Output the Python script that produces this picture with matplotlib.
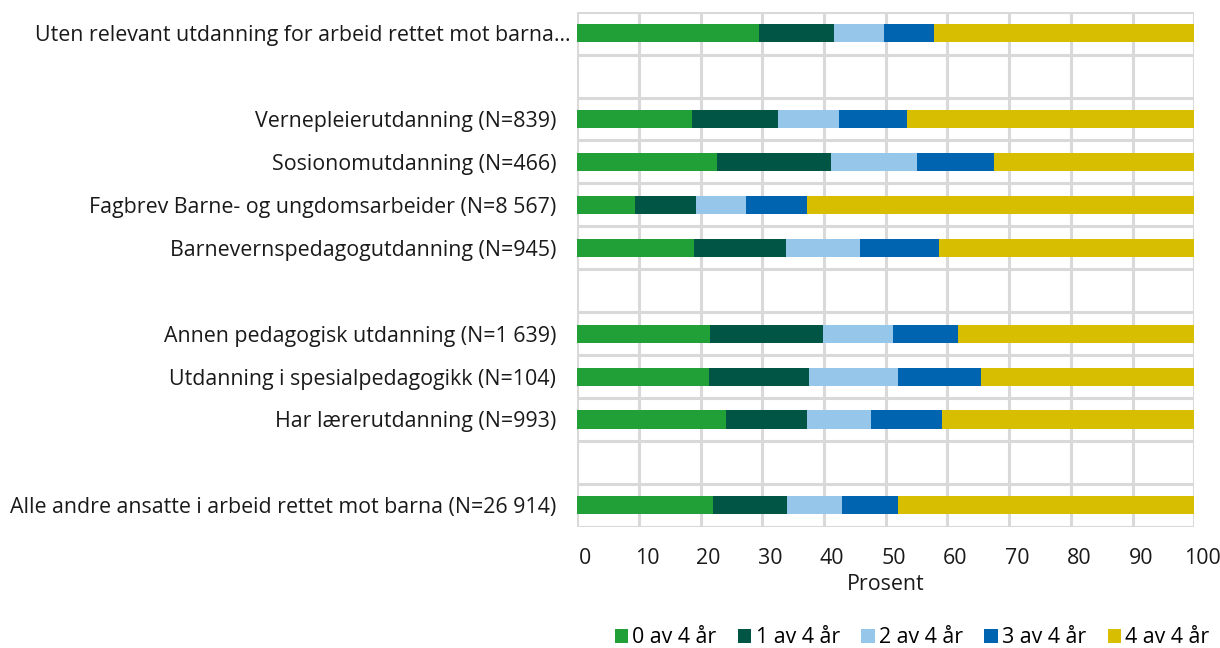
import matplotlib
matplotlib.use('Agg')
import matplotlib.pyplot as plt
import matplotlib.transforms as mtransforms
from matplotlib.patches import Patch
import numpy as np

plt.rcParams['font.family'] = ['Open Sans', 'DejaVu Sans']

# rows from top to bottom, '' = empty spacer row
categories = [
    'Uten relevant utdanning for arbeid rettet mot barna…',
    '',
    'Vernepleierutdanning (N=839)',
    'Sosionomutdanning (N=466)',
    'Fagbrev Barne- og ungdomsarbeider (N=8 567)',
    'Barnevernspedagogutdanning (N=945)',
    '',
    'Annen pedagogisk utdanning (N=1 639)',
    'Utdanning i spesialpedagogikk (N=104)',
    'Har lærerutdanning (N=993)',
    '',
    'Alle andre ansatte i arbeid rettet mot barna (N=26 914)',
]

series = ['0 av 4 år', '1 av 4 år', '2 av 4 år', '3 av 4 år', '4 av 4 år']

# percent per row (nan for spacer rows)
s0 = [29.4, np.nan, 18.7, 22.6, 9.4, 18.9, np.nan, 21.5, 21.3, 24.1, np.nan, 22.0]
s1 = [12.2, np.nan, 13.8, 18.6, 9.8, 15.0, np.nan, 18.3, 16.2, 13.2, np.nan, 12.0]
s2 = [8.2, np.nan, 9.9, 13.8, 8.2, 12.0, np.nan, 11.4, 14.5, 10.3, np.nan, 8.9]
s3 = [8.0, np.nan, 11.0, 12.6, 9.8, 12.7, np.nan, 10.5, 13.4, 11.5, np.nan, 9.1]
s4 = [42.2, np.nan, 46.6, 32.4, 62.8, 41.4, np.nan, 38.3, 34.6, 40.9, np.nan, 48.0]

colors = ['#21A038', '#005545', '#96C7EB', '#0064B0', '#D7BE00']
fs = 15.4

fig = plt.figure(figsize=(12.2, 6.48), dpi=100)
ax = fig.add_axes([0.473, 0.187, 0.506, 0.795])

y = np.arange(len(categories))
left = np.zeros(len(categories))
for vals, col, name in zip([s0, s1, s2, s3, s4], colors, series):
    v = np.nan_to_num(np.array(vals, dtype=float))
    ax.barh(y, v, left=left, height=0.42, color=col, label=name, zorder=3)
    left += v

ax.set_xlim(0, 100)
ax.set_ylim(len(categories) - 0.5, -0.5)
ax.set_xticks(np.arange(0, 101, 10))
ax.set_yticks(y)
ax.set_yticklabels(categories, fontsize=fs, color='#1a1a1a')
ax.tick_params(axis='y', length=0, pad=15)
ax.tick_params(axis='x', length=0, pad=15, labelsize=fs, labelcolor='#1a1a1a')

# gridlines: vertical at ticks, horizontal between rows
ax.set_yticks(np.arange(-0.5, len(categories), 1), minor=True)
ax.grid(axis='x', which='major', color='#D9D9D9', linewidth=2.2, zorder=0)
ax.grid(axis='y', which='minor', color='#D9D9D9', linewidth=2.2, zorder=0)
ax.tick_params(axis='y', which='minor', length=0)
for s in ax.spines.values():
    s.set_visible(False)

# tick labels sit slightly right of the gridlines
offset = mtransforms.ScaledTranslation(8 / 100, 0, fig.dpi_scale_trans)
for lab in ax.get_xticklabels():
    lab.set_transform(lab.get_transform() + offset)

# truncated top label runs a bit further right
first = ax.get_yticklabels()[0]
first.set_transform(first.get_transform() +
                    mtransforms.ScaledTranslation(14 / 100, 0, fig.dpi_scale_trans))

ax.set_xlabel('Prosent', fontsize=fs, color='#1a1a1a', labelpad=4)

handles = [Patch(facecolor=c, edgecolor='none') for c in colors]
fig.legend(handles, series, loc='lower right', bbox_to_anchor=(1.007, -0.03),
           ncol=5, frameon=False, fontsize=fs, handlelength=0.62, handleheight=0.62,
           handletextpad=0.2, columnspacing=1.0)

fig.savefig('out.png', dpi=100)
